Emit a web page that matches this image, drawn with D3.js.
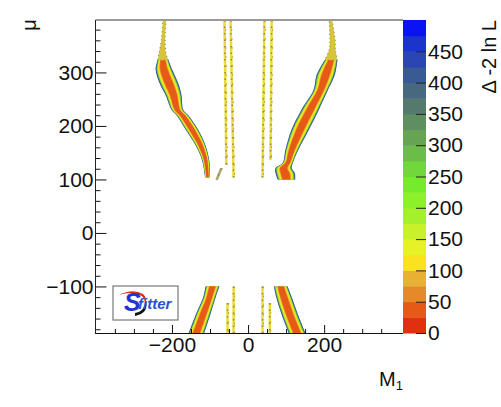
<!DOCTYPE html>
<html>
<head>
<meta charset="utf-8">
<script src="https://d3js.org/d3.v7.min.js"></script>
<style>
html, body { margin: 0; background: #fff; }
text { font-family: "Liberation Sans", sans-serif; fill: #111; }
</style>
</head>
<body>
<div id="chart"></div>
<script>
var w = 501, h = 407;

// m1 / mu in axis units
var xMajor = [-200, 0, 200];
var yMajor = [-100, 0, 100, 200, 300];
var zTicks = [0, 50, 100, 150, 200, 250, 300, 350, 400, 450];

// palette, 20 bands of 25
var zBands = d3.range(0, 500, 25);
var zColors = ["#e0300f", "#e65a17", "#e6892a", "#e9b133", "#fbe21e", "#e6f128", "#c8f12a", "#a4f02a", "#8cf02a", "#74ec2c",
  "#70d83a", "#6cbc48", "#66a454", "#5f8f60", "#55796c", "#47687e", "#3a5a95", "#2a46b4", "#1a34cc", "#0a14f0"];

// wings: mu, lower m1, upper m1
var upLeftMu = [323, 305, 277, 258, 230, 220, 193, 164, 136, 104];
var upLeftLo = [-238, -243, -231, -217, -201, -188, -164, -138, -121, -113];
var upLeftHi = [-209, -199, -182, -175, -170, -157, -131, -112, -102, -100];

var upRightMu = [323, 295, 267, 230, 193, 155, 131, 121, 112, 100];
var upRightLo = [201, 180, 172, 140, 114, 98, 91, 72, 72, 78];
var upRightHi = [235, 228, 210, 186, 160, 132, 118, 115, 123, 124];

var downLeftMu = [-100, -120, -150, -187];
var downLeftLo = [-112, -118, -136, -156];
var downLeftHi = [-75, -85, -98, -115];

var downRightMu = [-100, -120, -150, -187];
var downRightLo = [68, 74, 87, 107];
var downRightHi = [104, 115, 130, 151];

// pale tips above the wings
var tipLeftMu = [398, 361, 333, 323];
var tipLeftLo = [-224, -228, -235, -238];
var tipLeftHi = [-215, -218, -215, -209];

var tipRightMu = [398, 361, 342, 323];
var tipRightLo = [213, 215, 213, 201];
var tipRightHi = [221, 229, 230, 235];

// thin strands: m1 at both ends, mu at both ends
var strandM1a = [-62, -46, 43, 62, -70, -54, -38, 38, 57];
var strandM1b = [-57, -38, 38, 59, -83, -54, -38, 38, 57];
var strandMuA = [398, 398, 398, 398, 121, -131, -100, -100, -131];
var strandMuB = [127, 103, 103, 136, 99, -187, -187, -187, -187];

var wings = [
  [upLeftMu, upLeftLo, upLeftHi],
  [upRightMu, upRightLo, upRightHi],
  [downLeftMu, downLeftLo, downLeftHi],
  [downRightMu, downRightLo, downRightHi]
];
var tips = [
  [tipLeftMu, tipLeftLo, tipLeftHi],
  [tipRightMu, tipRightLo, tipRightHi]
];

var x = d3.scaleLinear().domain([-401, 406]).range([95.5, 402.5]);
var y = d3.scaleLinear().domain([-187, 398]).range([333, 20]);
var z = d3.scaleLinear().domain([0, 500]).range([333, 20]);

var svg = d3.select("#chart").append("svg")
  .attr("width", w)
  .attr("height", h)
  .style("display", "block");

svg.append("clipPath").attr("id", "frame")
  .append("rect")
  .attr("x", 95.5).attr("y", 20)
  .attr("width", 307).attr("height", 313);

var plot = svg.append("g").attr("clip-path", "url(#frame)");

function rows(s) {
  return s[0].map(function(mu, i) { return { mu: mu, lo: s[1][i], hi: s[2][i] }; });
}

// layers from outside in: palette band and how far in from the edge
var layers = [
  { band: 17, inset: 0 },
  { band: 13, inset: 0.04 },
  { band: 8, inset: 0.09 },
  { band: 4, inset: 0.14 },
  { band: 3, inset: 0.23 },
  { band: 2, inset: 0.26 },
  { band: 1, inset: 0.29 }
];

tips.forEach(function(s) {
  var d = rows(s);
  var tip = d3.area()
    .y(function(r) { return y(r.mu); })
    .x0(function(r) { return x(r.lo); })
    .x1(function(r) { return x(r.hi); })
    .curve(d3.curveCatmullRom);
  plot.append("path").attr("d", tip(d)).attr("fill", "#d8c43c");
  plot.append("path").attr("d", tip(d)).attr("fill", "none")
    .attr("stroke", "#7b8a5a").attr("stroke-width", 1).attr("stroke-dasharray", "1 3");
});

wings.forEach(function(s) {
  var d = rows(s);
  layers.forEach(function(l) {
    var area = d3.area()
      .y(function(r) { return y(r.mu); })
      .x0(function(r) { return x(r.lo + (r.hi - r.lo) * l.inset); })
      .x1(function(r) { return x(r.hi - (r.hi - r.lo) * l.inset); })
      .curve(d3.curveCatmullRom);
    plot.append("path").attr("d", area(d)).attr("fill", zColors[l.band]);
  });
});

// strands, yellow with a speckled line over it
strandM1a.forEach(function(m, i) {
  var x1 = x(m), x2 = x(strandM1b[i]), y1 = y(strandMuA[i]), y2 = y(strandMuB[i]);
  plot.append("line").attr("x1", x1).attr("y1", y1).attr("x2", x2).attr("y2", y2)
    .attr("stroke", i == 4 ? "#a8a878" : "#eadc34").attr("stroke-width", 2.5);
  plot.append("line").attr("x1", x1).attr("y1", y1).attr("x2", x2).attr("y2", y2)
    .attr("stroke", "#8a8a62").attr("stroke-width", 1.5).attr("stroke-dasharray", "1.5 5");
  plot.append("line").attr("x1", x1 + 1).attr("y1", y1).attr("x2", x2 + 1).attr("y2", y2)
    .attr("stroke", "#d09a50").attr("stroke-width", 1).attr("stroke-dasharray", "2 7");
});

// axes, ROOT style with ticks inside the frame
function styleAxis(g) {
  g.select(".domain").remove();
  g.selectAll("line").attr("stroke", "#111").attr("stroke-width", 1);
}

svg.append("g").attr("transform", "translate(0,333)")
  .call(d3.axisBottom(x).tickValues(d3.range(-400, 401, 50).filter(function(v) { return v % 200 != 0; })).tickSize(-4).tickFormat(""))
  .call(styleAxis);
svg.append("g").attr("transform", "translate(95.5,0)")
  .call(d3.axisLeft(y).tickValues(d3.range(-180, 381, 20).filter(function(v) { return v % 100 != 0; })).tickSize(-5).tickFormat(""))
  .call(styleAxis);

var xAxis = svg.append("g").attr("transform", "translate(0,333)")
  .call(d3.axisBottom(x).tickValues(xMajor).tickSize(-8))
  .call(styleAxis);
xAxis.selectAll("text").attr("y", 4).attr("dy", "0.71em").style("font-size", "21px").attr("fill", "#111");

var yAxis = svg.append("g").attr("transform", "translate(95.5,0)")
  .call(d3.axisLeft(y).tickValues(yMajor).tickSize(-11))
  .call(styleAxis);
yAxis.selectAll("text").attr("x", -2).style("font-size", "21px").attr("fill", "#111");

// frame lines
svg.append("line").attr("x1", 95.5).attr("x2", 403).attr("y1", 20).attr("y2", 20).attr("stroke", "#999").attr("stroke-width", 2);
svg.append("line").attr("x1", 95.5).attr("x2", 95.5).attr("y1", 20).attr("y2", 333).attr("stroke", "#222").attr("stroke-width", 1);
svg.append("line").attr("x1", 95).attr("x2", 403).attr("y1", 333.5).attr("y2", 333.5).attr("stroke", "#111").attr("stroke-width", 1);

// palette
svg.append("g").selectAll("rect")
  .data(zBands)
  .enter().append("rect")
  .attr("x", 403)
  .attr("width", 23)
  .attr("y", function(d) { return z(d + 25); })
  .attr("height", function(d) { return z(d) - z(d + 25) + 0.5; })
  .attr("fill", function(d, i) { return zColors[i]; });

var zAxis = svg.append("g").attr("transform", "translate(426,0)")
  .call(d3.axisRight(z).tickValues(zTicks).tickSize(-10).tickFormat(d3.format("d")));
zAxis.select(".domain").remove();
zAxis.selectAll("line").attr("stroke", "#222").attr("stroke-width", 1);
zAxis.selectAll("text").attr("x", 2).style("font-size", "21px").attr("fill", "#111");

// titles
svg.append("text").attr("transform", "translate(403,386)").attr("text-anchor", "end")
  .style("font-size", "20px").html('M<tspan dy="4" font-size="13">1</tspan>');
svg.append("text").attr("transform", "translate(36,25) rotate(-90)").attr("text-anchor", "middle")
  .style("font-size", "20px").text("μ");
svg.append("text").attr("transform", "translate(496,20) rotate(-90)").attr("text-anchor", "end")
  .style("font-size", "20px").text("Δ -2 ln L");

// logo box
var logo = svg.append("g").attr("transform", "translate(113,286)");
logo.append("rect").attr("width", 65).attr("height", 34).attr("fill", "#fff")
  .attr("stroke", "#777").attr("stroke-width", 1.2);
logo.append("path").attr("d", "M6 9 Q20 2 30 8 Q35 12 32 20 Q33 12 27 9 Q18 5 6 9 Z").attr("fill", "#d8301f");
logo.append("path").attr("d", "M22 27 Q31 26 33 15 Q36 27 22 30 Z").attr("fill", "#111");
logo.append("text").attr("x", 11).attr("y", 25).style("font-size", "25px").style("font-weight", "bold")
  .style("font-style", "italic").style("fill", "#1f35d0").text("S");
logo.append("text").attr("x", 25).attr("y", 23).style("font-size", "15px").style("font-weight", "bold")
  .style("font-style", "italic").style("fill", "#2a50d8").text("fitter");
</script>
</body>
</html>
